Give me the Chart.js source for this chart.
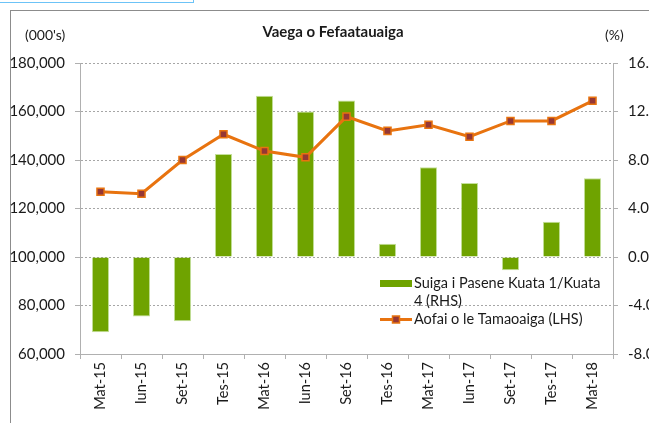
<!DOCTYPE html>
<html>
<head>
<meta charset="utf-8">
<script src="https://cdn.jsdelivr.net/npm/chart.js@4"></script>
<style>
  html, body { margin: 0; padding: 0; background: #fff; overflow: hidden; }
  #wrap { position: absolute; left: 0; top: 0; width: 649px; height: 423px; }
  #frame { position: absolute; left: 10px; top: 10px; width: 700px; height: 500px;
           border-left: 1px solid #8c8c8c; border-top: 1px solid #8c8c8c; }
  #bluebox { position: absolute; left: -2px; top: -2px; width: 194px; height: 3px;
             border: 1px solid #6cc3f7; }
</style>
</head>
<body>
<div id="frame"></div>
<div id="bluebox"></div>
<div id="wrap"><canvas id="c"></canvas></div>
<script>
const categories = ['Mat-15','Iun-15','Set-15','Tes-15','Mat-16','Iun-16','Set-16','Tes-16','Mat-17','Iun-17','Set-17','Tes-17','Mat-18'];
const pctChange = [-6.2, -4.9, -5.3, 8.5, 13.3, 12.0, 12.9, 1.1, 7.4, 6.1, -1.1, 2.9, 6.5];
const totals = [126900, 126100, 140000, 150600, 143700, 141100, 157900, 152000, 154500, 149600, 156100, 156100, 164400];
const leftTicks = [60000, 180000, 20000];
const rightTicks = [-8, 16, 4];
const titleText = 'Vaega o Fefaatauaiga';
const leftUnit = "(000's)";
const rightUnit = '(%)';
const barLabel = ['Suiga i Pasene Kuata 1/Kuata', '4 (RHS)'];
const lineLabel = 'Aofai o le Tamaoaiga (LHS)';

const FONT = 'Lato, "Liberation Sans", sans-serif';
const BAR_FILL = '#6fa300';
const BAR_EDGE = '#c4e09a';
const LINE_COL = '#e8730f';
const MARK_FILL = '#953735';
const AXIS_COL = '#b0b0b0';
const GRID_COL = '#a6a6a6';
const TXT = '#1a1a1a';

const extras = {
  id: 'extras',
  afterDraw(chart) {
    const ctx = chart.ctx;
    ctx.save();
    ctx.fillStyle = TXT;
    ctx.textBaseline = 'middle';
    ctx.font = 'bold 15px ' + FONT;
    ctx.textAlign = 'center';
    ctx.fillText(titleText, 333, 32);
    ctx.font = '14px ' + FONT;
    ctx.textAlign = 'left';
    ctx.fillText(leftUnit, 25, 35);
    ctx.fillText(rightUnit, 605, 35);
    // legend
    ctx.font = '14.5px ' + FONT;
    ctx.fillStyle = BAR_FILL;
    ctx.fillRect(380, 280, 32, 7);
    ctx.fillStyle = TXT;
    ctx.fillText(barLabel[0], 414, 283);
    ctx.fillText(barLabel[1], 414, 301);
    ctx.strokeStyle = LINE_COL;
    ctx.lineWidth = 3;
    ctx.beginPath(); ctx.moveTo(380, 319.5); ctx.lineTo(412, 319.5); ctx.stroke();
    ctx.fillStyle = MARK_FILL;
    ctx.lineWidth = 1.5;
    ctx.fillRect(392.5, 316, 7, 7);
    ctx.strokeRect(392.5, 316, 7, 7);
    ctx.fillStyle = TXT;
    ctx.fillText(lineLabel, 414, 319);
    ctx.restore();
  }
};

new Chart(document.getElementById('c'), {
  data: {
    labels: categories,
    datasets: [
      {
        type: 'line',
        label: lineLabel,
        data: totals,
        yAxisID: 'yL',
        borderColor: LINE_COL,
        borderWidth: 3,
        pointStyle: 'rect',
        pointRadius: 5,
        pointBorderWidth: 1.5,
        pointBackgroundColor: MARK_FILL,
        pointBorderColor: LINE_COL,
        tension: 0,
        order: 0
      },
      {
        type: 'bar',
        label: barLabel.join(' '),
        data: pctChange,
        yAxisID: 'yR',
        backgroundColor: BAR_FILL,
        borderColor: BAR_EDGE,
        borderWidth: 1,
        categoryPercentage: 1,
        barPercentage: 0.42,
        order: 1
      }
    ]
  },
  options: {
    responsive: true,
    maintainAspectRatio: false,
    animation: false,
    layout: { padding: { top: 63, left: 0, right: 0, bottom: 0 } },
    plugins: { legend: { display: false }, title: { display: false }, tooltip: { enabled: false } },
    scales: {
      x: {
        type: 'category',
        offset: true,
        grid: { display: true, offset: true, drawOnChartArea: false, drawTicks: true, tickLength: 5, color: AXIS_COL },
        border: { display: true, color: AXIS_COL, width: 1 },
        ticks: { minRotation: 90, maxRotation: 90, autoSkip: false, padding: 3, color: TXT, font: { family: FONT, size: 14.5 } },
        afterFit(s) { s.height = 69; }
      },
      yL: {
        type: 'linear',
        position: 'left',
        min: leftTicks[0], max: leftTicks[1],
        ticks: { stepSize: leftTicks[2], padding: 10, color: TXT, font: { family: FONT, size: 15 },
                 callback: v => v.toLocaleString('en-US') },
        grid: { color: GRID_COL, lineWidth: 1, tickLength: 5, drawTicks: true, tickColor: AXIS_COL },
        border: { display: true, color: AXIS_COL, width: 1, dash: [2, 2] },
        afterFit(s) { s.width = 80; }
      },
      yR: {
        type: 'linear',
        position: 'right',
        min: rightTicks[0], max: rightTicks[1],
        ticks: { stepSize: rightTicks[2], padding: 10, color: TXT, font: { family: FONT, size: 15 },
                 callback: v => v.toFixed(1) },
        grid: { drawOnChartArea: false, drawTicks: true, tickLength: 5, color: AXIS_COL },
        border: { display: true, color: AXIS_COL, width: 1 },
        afterFit(s) { s.width = 36; }
      }
    }
  },
  plugins: [extras]
});
</script>
</body>
</html>
